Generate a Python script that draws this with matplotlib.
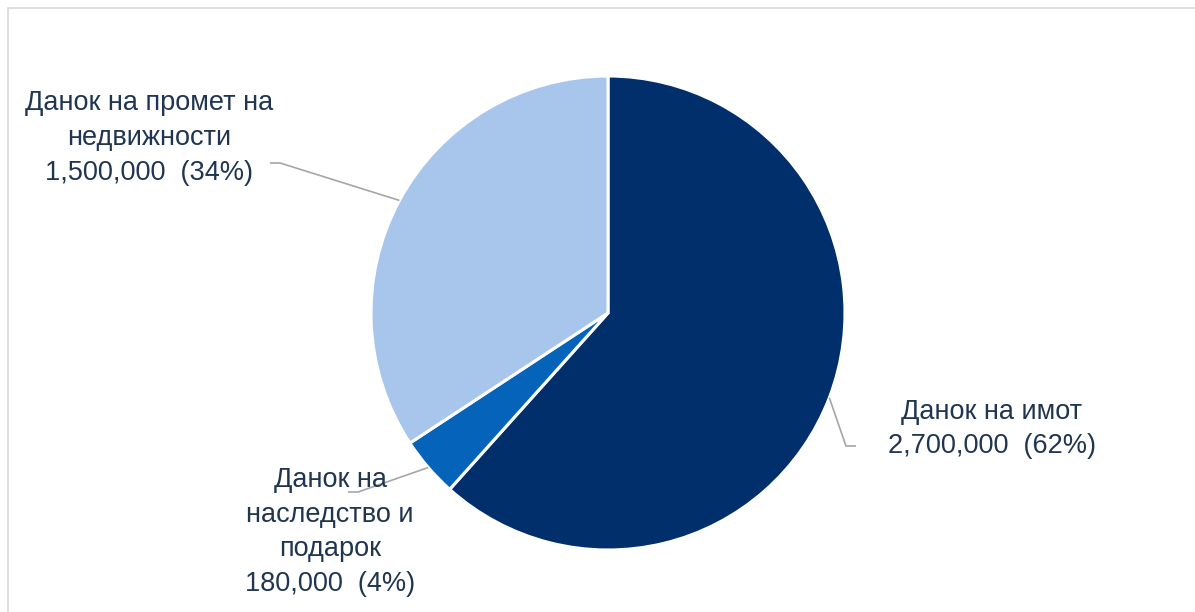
import numpy as np
import matplotlib
matplotlib.use('Agg')
import matplotlib.pyplot as plt
from matplotlib.patches import Rectangle

# ── Data ────────────────────────────────────────────────────────────────────
labels = ['Данок на имот', 'Данок на\nнаследство и\nподарок', 'Данок на промет на\nнедвижности']
values = [2700000, 180000, 1500000]
colors = ['#002F6C', '#0563B9', '#A8C6EC']

W, H = 1195, 612
CX, CY, R = 608, 313, 237

def px(x, y):
    # pixel position -> pie data coords (unit radius)
    return (x - CX) / R, (CY - y) / R

plt.rcParams['font.family'] = ['Liberation Sans', 'DejaVu Sans']
TEXT = '#1F3550'

fig = plt.figure(figsize=(W / 100, H / 100), dpi=100)
ax = fig.add_axes([(CX - R) / W, (H - CY - R) / H, 2 * R / W, 2 * R / H])

wedges, _ = ax.pie(values, colors=colors, startangle=90, counterclock=False,
                   radius=1.0, wedgeprops=dict(edgecolor='white', linewidth=2.2))
ax.set_xlim(-1, 1)
ax.set_ylim(-1, 1)
ax.set_aspect('equal')
ax.axis('off')

total = sum(values)
# label text centre, leader elbow, leader end (pixels)
text_pos = [(992, 429), (330, 532), (149, 138)]
elbows = [((846, 446), (856, 446)), ((358, 492), (348, 492)), ((280, 163), (270, 163))]

for w, lab, v, tp, (e1, e2) in zip(wedges, labels, values, text_pos, elbows):
    mid = np.deg2rad((w.theta1 + w.theta2) / 2)
    sx, sy = np.cos(mid), np.sin(mid)
    ex1, ey1 = px(*e1)
    ex2, ey2 = px(*e2)
    ax.plot([sx, ex1, ex2], [sy, ey1, ey2], color='#A6A6A6', lw=1.2,
            clip_on=False, solid_capstyle='butt')
    pct = round(v / total * 100)
    txt = f'{lab}\n{v:,}  ({pct}%)'
    tx, ty = px(*tp)
    ax.text(tx, ty, txt, ha='center', va='center', fontsize=19.5, color=TEXT,
            linespacing=1.43, clip_on=False)

# light chart border
fig.patches.append(Rectangle((8 / W, -0.1), 1.2, 1.1 - 8 / H, transform=fig.transFigure,
                             fill=False, edgecolor='#D9D9D9', linewidth=1.2))

fig.savefig('out.png', dpi=100, facecolor='white')
